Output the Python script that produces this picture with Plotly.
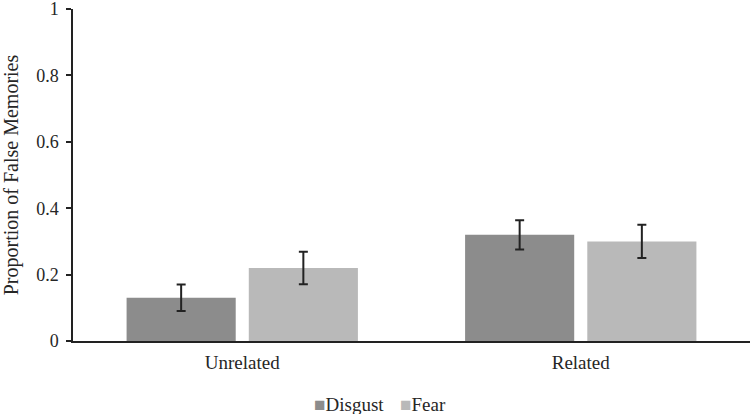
import plotly.graph_objects as go

categories = ["Unrelated", "Related"]
disgust = [0.13, 0.32]
disgust_err = [0.04, 0.044]
fear = [0.22, 0.30]
fear_err = [0.049, 0.05]
y_ticks = [0, 0.2, 0.4, 0.6, 0.8, 1]
y_tick_labels = ["0", "0.2", "0.4", "0.6", "0.8", "1"]
series_names = ["Disgust", "Fear"]
series_colors = ["#8c8c8c", "#b9b9b9"]

fam = "Liberation Serif, Times New Roman, serif"
font = dict(family=fam, size=19, color="#262626")
ytick_font = dict(family=fam, size=18, color="#262626")

W, H = 750, 414
ML, MR, MT, MB = 73, 0, 9, 73

fig = go.Figure()
for name, vals, errs, col in zip(series_names, [disgust, fear], [disgust_err, fear_err], series_colors):
    fig.add_trace(go.Bar(
        name=name, x=categories, y=vals,
        marker=dict(color=col, line=dict(width=0)),
        error_y=dict(type="data", array=errs, color="#222222", thickness=2, width=4.5),
        hoverinfo="skip",
    ))

# legend built as text items (square glyph + label)
legend_left_px = [312, 398]
pw = W - ML - MR
ph = H - MT - MB
for name, col, lx in zip(series_names, series_colors, legend_left_px):
    fig.add_annotation(
        xref="paper", yref="paper",
        x=(lx - ML) / pw, y=-(404 - (H - MB)) / ph,
        xanchor="left", yanchor="middle", showarrow=False,
        text=f"<span style='color:{col}'>■</span>{name}",
        font=font,
    )

fig.update_layout(
    width=W, height=H,
    margin=dict(l=ML, r=MR, t=MT, b=MB),
    paper_bgcolor="white", plot_bgcolor="white",
    font=font,
    barmode="group", bargap=0.278, bargroupgap=0.107,
    showlegend=False,
)
fig.update_xaxes(showline=True, linecolor="#222222", linewidth=1.5, ticks="",
                 showgrid=False, tickfont=font, automargin=False,
                 ticklabelstandoff=3)
fig.update_yaxes(range=[0, 1.0001], tickvals=y_ticks, ticktext=y_tick_labels,
                 showline=True, linecolor="#222222", linewidth=1.5,
                 ticks="outside", ticklen=5, tickcolor="#222222", tickwidth=1.5,
                 showgrid=False, zeroline=False, tickfont=ytick_font, automargin=False,
                 ticklabelstandoff=4, ticklabeloverflow="allow",
                 title=dict(text="Proportion of False Memories",
                            font=dict(family=fam, size=20, color="#262626"), standoff=17))

fig.write_html("out.html", config={"displayModeBar": False},
               post_script="document.body.style.margin='0';")
